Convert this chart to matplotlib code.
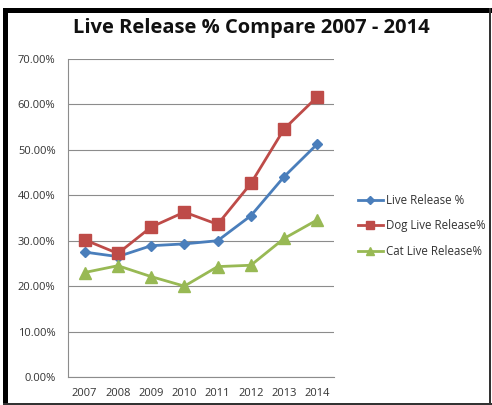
import matplotlib
matplotlib.use("Agg")
import matplotlib.pyplot as plt
from matplotlib.patches import Rectangle
from matplotlib.ticker import FuncFormatter, MultipleLocator

years = ["2007", "2008", "2009", "2010", "2011", "2012", "2013", "2014"]
live_release = [27.5, 26.5, 28.9, 29.3, 30.0, 35.5, 44.1, 51.3]
dog_release = [30.2, 27.2, 33.0, 36.3, 33.6, 42.6, 54.6, 61.7]
cat_release = [23.0, 24.5, 22.1, 20.0, 24.3, 24.6, 30.5, 34.6]

fig = plt.figure(figsize=(4.92, 4.05), dpi=100)
fig.patch.set_facecolor("white")

# outer black frame
fig.add_artist(Rectangle((3/492, 0), 5/492, 1 - 8/405, transform=fig.transFigure, color="black", lw=0))
fig.add_artist(Rectangle((3/492, 1 - 13/405), 489/492, 5/405, transform=fig.transFigure, color="black", lw=0))
fig.add_artist(Rectangle((489/492, 0), 2/492, 1 - 8/405, transform=fig.transFigure, color="#333333", lw=0))
fig.add_artist(Rectangle((3/492, 0), 489/492, 2/405, transform=fig.transFigure, color="#333333", lw=0))

ax = fig.add_axes([68/492, 1 - 377/405, 266/492, 318/405])
x = list(range(len(years)))
ax.plot(x, live_release, color="#4A7EBB", marker="D", markersize=5.5, lw=2, label="Live Release %", zorder=3)
ax.plot(x, dog_release, color="#BE4B48", marker="s", markersize=8, lw=2, label="Dog Live Release%", zorder=3)
ax.plot(x, cat_release, color="#98B954", marker="^", markersize=8, lw=2, label="Cat Live Release%", zorder=3)

ax.set_xlim(-0.5, 7.5)
ax.set_ylim(0, 70)
ax.yaxis.set_major_locator(MultipleLocator(10))
ax.yaxis.set_major_formatter(FuncFormatter(lambda v, p: f"{v:.2f}%"))
ax.set_xticks(x)
ax.set_xticklabels(years)
ax.grid(axis="y", color="#8c8c8c", lw=0.8)
ax.set_axisbelow(True)
for s in ["top", "right"]:
    ax.spines[s].set_visible(False)
for s in ["left", "bottom"]:
    ax.spines[s].set_color("#8c8c8c")
    ax.spines[s].set_linewidth(0.8)
ax.tick_params(axis="y", length=0, labelsize=8, labelcolor="#333333", pad=9)
ax.tick_params(axis="x", length=0, labelsize=8, labelcolor="#333333", pad=8)
for lab in ax.get_yticklabels() + ax.get_xticklabels():
    lab.set_fontfamily("Open Sans")

fig.text(251/492, 1 - 28/405, "Live Release % Compare 2007 - 2014", ha="center", va="center",
         fontsize=14.5, fontweight="bold", family="Open Sans", color="#111111")

leg = fig.legend(loc="center left", bbox_to_anchor=(348/492, 1 - 226/405), frameon=False,
                 prop={"family": "Open Sans", "size": 8.3}, handlelength=2.1, labelspacing=1.05,
                 handletextpad=0.3, markerscale=0.7)
for t in leg.get_texts():
    t.set_color("#333333")

fig.savefig("out.png", dpi=100, facecolor="white")
